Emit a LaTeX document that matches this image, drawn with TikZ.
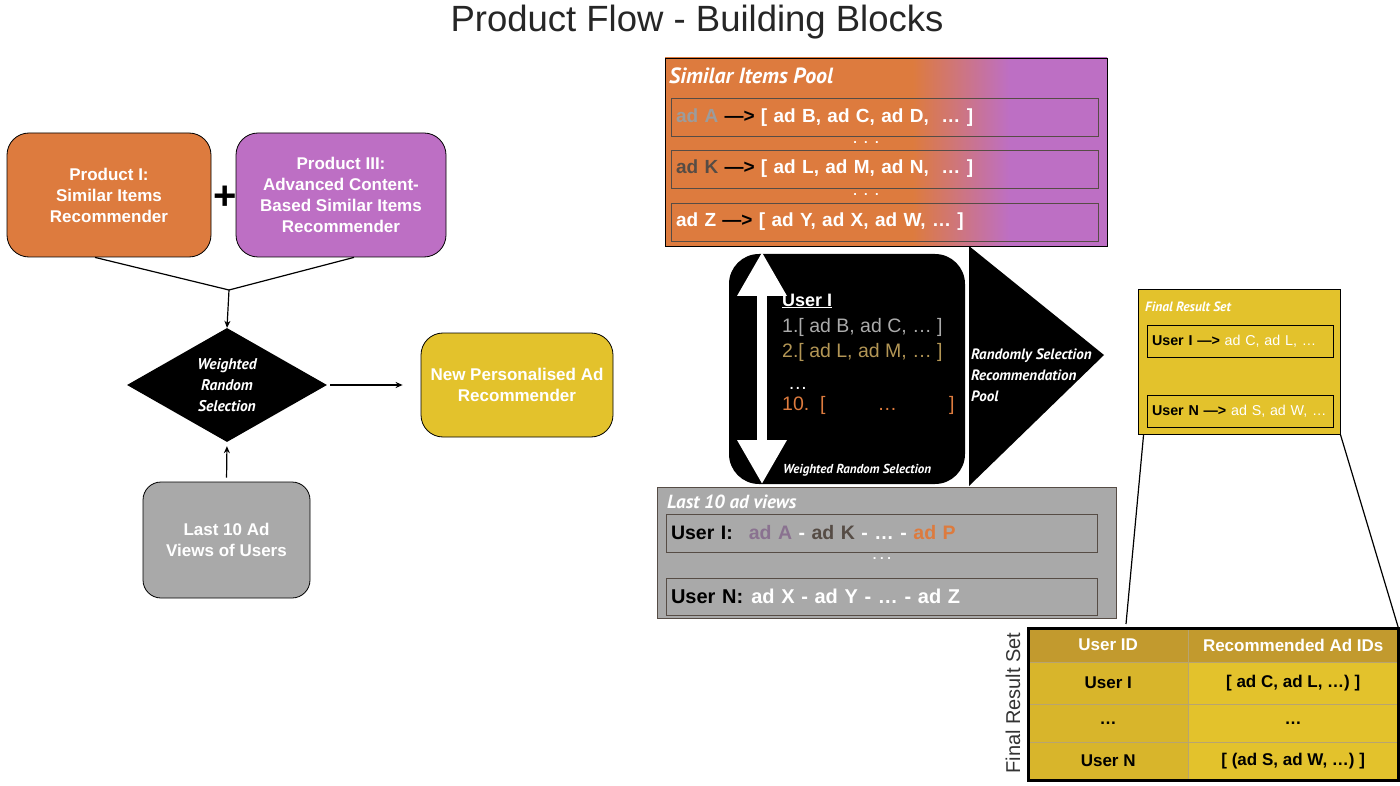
\documentclass[tikz,border=0pt]{standalone}
\usepackage{fontspec}
\setmainfont{Liberation Sans}
\newfontfamily\condfont{PT Sans}
\usetikzlibrary{shapes.geometric, arrows.meta, positioning}
\definecolor{prodorange}{HTML}{DD7B3E}
\definecolor{prodpurple}{HTML}{BD6FC4}
\definecolor{prodyellow}{HTML}{E3C22C}
\definecolor{prodgray}{HTML}{A9A9A9}
\definecolor{headgold}{HTML}{C29A2E}
\definecolor{cellgold}{HTML}{D8B52B}
\definecolor{cellline}{HTML}{B8A470}
\definecolor{adgray}{HTML}{9C9C9C}
\definecolor{addark}{HTML}{564C45}
\definecolor{adtan}{HTML}{B39655}
\definecolor{adpurple}{HTML}{8A7290}
\definecolor{listgray}{HTML}{ABABAB}
\pgfdeclarehorizontalshading{poolshade}{100bp}{color(0bp)=(prodorange); color(53bp)=(prodorange); color(64bp)=(prodpurple); color(100bp)=(prodpurple)}
\tikzstyle{product} = [draw=black, thick, rectangle, rounded corners=22pt, text=white, align=center, font=\fontsize{17}{21}\selectfont\bfseries]
\tikzstyle{choice} = [diamond, fill=black, text=white, align=center, inner sep=0pt, font=\fontsize{15.5}{21}\selectfont\condfont\bfseries\itshape]
\tikzstyle{boxtitle} = [anchor=west, inner sep=0pt, text=white, font=\condfont\bfseries\itshape]
\tikzstyle{poolrow} = [draw=addark, thick, rectangle, minimum height=38pt, inner xsep=5pt, align=left, text=white, font=\fontsize{19}{19}\selectfont\bfseries]
\tikzstyle{listline} = [anchor=base west, inner sep=0pt, font=\fontsize{19.5}{19.5}\selectfont]
\tikzstyle{dotrow} = [inner sep=0pt, text=white, font=\fontsize{13}{13}\selectfont\bfseries]
\tikzstyle{cell} = [draw=cellline, thin, rectangle, anchor=north west, inner sep=0pt, font=\fontsize{17}{17}\selectfont\bfseries]
\tikzstyle{link} = [line width=1.2pt]

\begin{document}
\begin{tikzpicture}[x=1pt,y=-1pt]
\useasboundingbox[fill=white] (0,0) rectangle (1400,786);
\node[font=\fontsize{36.5}{36.5}\selectfont, text=black!85] (title) at (697,22) {Product Flow - Building Blocks};

% left flow
\node[product, fill=prodorange, minimum width=204pt, minimum height=124pt] (prodA) at (109,195) {Product I:\\Similar Items\\Recommender};
\node[product, fill=prodpurple, minimum width=210pt, minimum height=124pt] (prodB) at (341,195) {Product III:\\Advanced Content-\\Based Similar Items\\Recommender};
\node[font=\fontsize{40}{40}\selectfont\bfseries, inner sep=0pt] (plus) at (225,198) {+};
\coordinate (merge) at (229,290);
\draw[link] ([xshift=-14pt]prodA.south) -- (merge);
\draw[link] ([xshift=13pt]prodB.south) -- (merge);
\node[choice, minimum width=200pt, minimum height=114pt, shape aspect=1.75] (select) at (227,385) {Weighted\\Random\\Selection};
\draw[link, -{Stealth[length=7pt,width=6pt]}] (merge) -- (select.north);
\node[product, fill=prodyellow, minimum width=192pt, minimum height=104pt] (newrec) at (517,385) {New Personalised Ad\\Recommender};
\draw[link, -{Stealth[length=7pt,width=6pt]}, shorten <=3pt, shorten >=18pt] (select.east) -- (newrec.west);
\node[product, fill=prodgray, rounded corners=18pt, minimum width=167pt, minimum height=116pt] (views) at (226.5,540) {Last 10 Ad\\Views of Users};
\draw[link, -{Stealth[length=7pt,width=6pt]}, shorten <=4pt, shorten >=4pt] (views.north) -- (select.south);

% similar items pool
\node[draw=black, thick, shading=poolshade, minimum width=442pt, minimum height=188pt, inner sep=0pt] (pool) at (886,152) {};
\node[boxtitle, font=\fontsize{22}{22}\selectfont\condfont\bfseries\itshape] (pooltitle) at (669,76) {Similar Items Pool};
\node[poolrow, text width=417pt] (rowA) at (884.5,117.5) {\textcolor{adgray}{ad A} \textcolor{black}{—>} [ ad B, ad C, ad D,\ \ … ]};
\node[poolrow, text width=417pt] (rowK) at (884.5,169) {\textcolor{addark}{ad K} \textcolor{black}{—>} [ ad L, ad M, ad N,\ \ … ]};
\node[poolrow, text width=417pt] (rowZ) at (884.5,222) {ad Z \textcolor{black}{—>} [ ad Y, ad X, ad W, … ]};
\node[dotrow] (dotsA) at (866,143) {.\ \ .\ \ .};
\node[dotrow] (dotsK) at (866,195) {.\ \ .\ \ .};

% weighted random selection
\node[fill=black, rounded corners=30pt, minimum width=236pt, minimum height=230pt, inner sep=0pt] (wrs) at (847,369) {};
\coordinate (arrTop) at (762,252);
\coordinate (arrBot) at (762,484);
\draw[white, line width=10pt, {Triangle[width=47pt,length=44pt]}-{Triangle[width=47pt,length=44pt]}] (arrTop) -- (arrBot);
\node[listline, text=white, font=\fontsize{18}{18}\selectfont\bfseries] (ulHead) at (782,306) {\underline{User I}};
\node[listline, text=listgray] (ulOne) at (782,332) {1.[ ad B, ad C, … ]};
\node[listline, text=adtan] (ulTwo) at (782,357) {2.[ ad L, ad M, … ]};
\node[listline, text=white] (ulDots) at (788,389) {…};
\node[listline, text=prodorange] (ulTen) at (782,410) {10.\ \ [\hspace{52pt}…\hspace{52pt}]};
\node[boxtitle, font=\fontsize{13}{13}\selectfont\condfont\bfseries\itshape] (wrstitle) at (783,470) {Weighted Random Selection};
\fill (969,246) -- (1104,355) -- (969,486) -- cycle;
\node[anchor=west, align=left, inner sep=0pt, text=white, font=\fontsize{15}{21}\selectfont\condfont\bfseries\itshape] (poolsel) at (971,375) {Randomly Selection\\Recommendation\\Pool};

% last 10 ad views
\node[draw=addark, thick, fill=prodgray, minimum width=459pt, minimum height=131pt, inner sep=0pt] (lastviews) at (886.5,552.5) {};
\node[boxtitle, font=\fontsize{19}{19}\selectfont\condfont\bfseries\itshape] (viewstitle) at (667,502) {Last 10 ad views};
\node[poolrow, draw=addark, text width=421pt, font=\fontsize{19.5}{19.5}\selectfont\bfseries] (viewI) at (881.5,533) {\textcolor{black}{User I:}\hspace{16pt}\textcolor{adpurple}{ad A} - \textcolor{addark}{ad K} - … - \textcolor{prodorange}{ad P}};
\node[poolrow, draw=addark, text width=421pt, minimum height=37pt, font=\fontsize{20}{20}\selectfont\bfseries] (viewN) at (881.5,596.5) {\textcolor{black}{User N:}\hspace{8pt}ad X - ad Y - … - ad Z};
\node[dotrow] (dotsV) at (882,559) {.\ .\ .};

% final result set
\node[draw=black, thick, fill=prodyellow, minimum width=202pt, minimum height=145pt, inner sep=0pt] (final) at (1239,361.5) {};
\node[boxtitle, font=\fontsize{13.5}{13.5}\selectfont\condfont\bfseries\itshape] (finaltitle) at (1145,307) {Final Result Set};
\node[poolrow, draw=black, text width=176pt, minimum height=32pt, font=\fontsize{14.3}{14.3}\selectfont] (finalI) at (1240,341) {\textcolor{black}{\textbf{User I —>}} ad C, ad L, …};
\node[poolrow, draw=black, text width=176pt, minimum height=32pt, font=\fontsize{14.3}{14.3}\selectfont] (finalN) at (1240,411) {\textcolor{black}{\textbf{User N —>}} ad S, ad W, …};

% result table
\node[cell, fill=headgold, text=white, minimum width=160pt, minimum height=34pt] (hUser) at (1028,628) {User ID};
\node[cell, fill=headgold, text=white, minimum width=210pt, minimum height=34pt] (hAds) at (1188,628) {Recommended Ad IDs};
\node[cell, fill=cellgold, minimum width=160pt, minimum height=42pt] (cUserI) at (1028,662) {User I};
\node[cell, fill=prodyellow, minimum width=210pt, minimum height=42pt] (cAdsI) at (1188,662) {[ ad C, ad L, …) ]};
\node[cell, fill=cellgold, minimum width=160pt, minimum height=38pt] (cUserD) at (1028,704) {…};
\node[cell, fill=prodyellow, minimum width=210pt, minimum height=38pt] (cAdsD) at (1188,704) {…};
\node[cell, fill=cellgold, minimum width=160pt, minimum height=38pt] (cUserN) at (1028,742) {User N};
\node[cell, fill=prodyellow, minimum width=210pt, minimum height=38pt] (cAdsN) at (1188,742) {[ (ad S, ad W, …) ]};
\draw[line width=3pt] (hUser.north west) rectangle (cAdsN.south east);
\node[rotate=90, font=\fontsize{20}{20}\selectfont, text=black!80] (tbllabel) at (1013,703) {Final Result Set};
\coordinate (zoomL) at (1126,624);
\draw[link] ([xshift=6pt]final.south west) -- (zoomL);
\draw[link] (final.south east) -- (hAds.north east);
\end{tikzpicture}
\end{document}
